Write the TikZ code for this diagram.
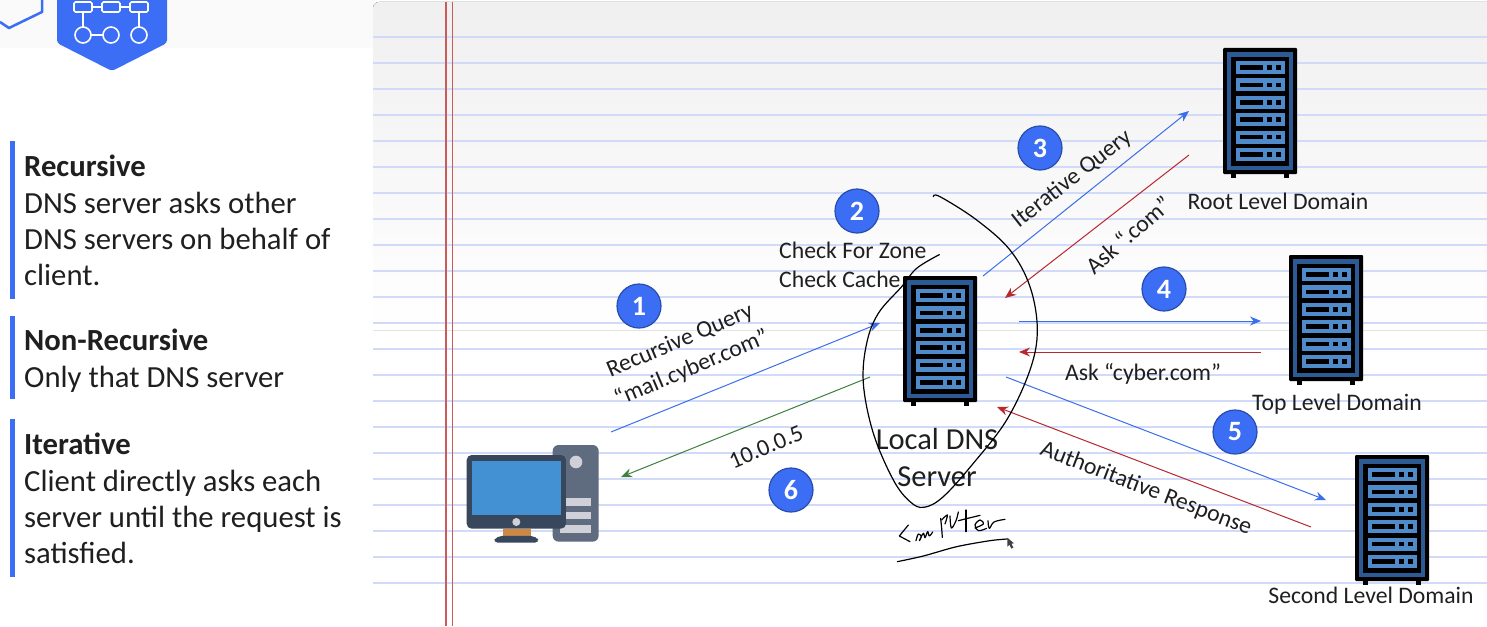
\documentclass[tikz,border=0pt]{standalone}
\usepackage{fontspec}
\setmainfont{Carlito}
\usetikzlibrary{arrows.meta}
\definecolor{bluea}{HTML}{3B6EF5}
\definecolor{arrblue}{HTML}{3B6FE8}
\definecolor{arrred}{HTML}{B8282E}
\definecolor{arrgreen}{HTML}{3F7F3F}
\definecolor{noterule}{HTML}{D2DAFA}
\definecolor{marginred}{HTML}{CC5A5A}
\definecolor{rack}{HTML}{2C5A94}
\definecolor{blade}{HTML}{4F8BCB}
\definecolor{ink}{HTML}{1F1F1F}
\definecolor{tower}{HTML}{5F6B7E}
\definecolor{monitor}{HTML}{38475C}
\definecolor{screen}{HTML}{4391D3}
\definecolor{pale}{HTML}{D0D0D8}
\definecolor{stand}{HTML}{CC8844}
\tikzset{
  conn/.style={line width=1pt,-{Stealth[length=11pt,width=9pt]}},
  badge/.style={circle,fill=bluea,draw=bluea!70!black,line width=1.2pt,minimum size=44pt,inner sep=0pt,text=white,font=\fontsize{28}{28}\selectfont\bfseries},
  sidetext/.style={anchor=north west,align=left,inner sep=0pt,text=ink,font=\fontsize{30.7}{36.3}\selectfont},
  lab/.style={text=ink,font=\fontsize{23.7}{30}\selectfont,inner sep=0pt,align=center},
  ink stroke/.style={line width=1.2pt,black,line cap=round,line join=round},
  server/.pic={
    \fill[black,rounded corners=1pt] (0,0) rectangle (74,126);
    \fill[black] (8,124) rectangle (13,130);
    \fill[black] (61,124) rectangle (66,130);
    \fill[rack] (4,4) rectangle (70,122);
    \fill[black] (8,9) rectangle (66,118);
    \foreach \k in {0,...,5}{
      \begin{scope}[shift={(13,13+17.4*\k)}]
        \fill[blade] (0,0) rectangle (49,13);
        \fill[black] (4,4.2) rectangle (27,8.8);
        \fill[black] (31,4.2) rectangle (36,8.8);
        \fill[black] (40,4.2) rectangle (45,8.8);
      \end{scope}
    }
  }
}
\begin{document}
\begin{tikzpicture}[x=1pt,y=-1pt]
\useasboundingbox (0,0) rectangle (1487,626);
\fill[white] (0,0) rectangle (1487,626);
\fill[black!2] (0,0) rectangle (373,48);
% paper
\fill[top color=black!6,bottom color=white] (373,330) [rounded corners=6pt] -- (373,2) -- (1500,2) [sharp corners] -- (1500,330) -- cycle;
\foreach \k in {0,...,21}{ \draw[noterule,line width=1.1pt] (373,37+26*\k) -- (1487,37+26*\k); }
\draw[marginred,line width=1.4pt] (446,2) -- (446,626);
\draw[marginred,line width=1pt] (452,2) -- (452,626);
% header icons
\draw[bluea,line width=2.5pt,line join=round] (0,22) -- (9,28) -- (42,12) -- (42,0);
\fill[bluea,rounded corners=3pt] (57,-5) -- (57,43) -- (112,71) -- (167,43) -- (167,-5) -- cycle;
\begin{scope}[white,line width=1.6pt]
  \draw[rounded corners=1.5pt] (74,2) rectangle (92,12);
  \draw[rounded corners=1.5pt] (102,2) rectangle (120,12);
  \draw[rounded corners=1.5pt] (130,2) rectangle (148,12);
  \draw (92,7) -- (102,7) (120,7) -- (130,7);
  \draw (83,12) -- (83,27) (139,12) -- (139,27);
  \draw (83,35) circle (8);
  \draw (111,35) circle (8);
  \draw (139,35) circle (8);
  \draw (91,35) -- (103,35);
\end{scope}
% side panel
\fill[bluea] (10,141) rectangle (15,299);
\fill[bluea] (10,316) rectangle (15,399);
\fill[bluea] (10,419) rectangle (15,577);
\node[sidetext] (recursive) at (24,155) {\textbf{Recursive}\\DNS server asks other\\DNS servers on behalf of\\client.};
\node[sidetext] (nonrecursive) at (24,329) {\textbf{Non-Recursive}\\Only that DNS server};
\node[sidetext] (iterative) at (24,433) {\textbf{Iterative}\\Client directly asks each\\server until the request is\\satisfied.};
% computer
\begin{scope}[shift={(450,430)},x=0.3333pt,y=-0.3333pt]
  \fill[tower,rounded corners=6pt] (308,45) rectangle (446,335);
  \fill[pale] (378,96) circle (19);
  \fill[pale] (330,205) rectangle (424,227);
  \fill[pale] (330,246) rectangle (424,268);
  \fill[pale] (330,286) rectangle (424,308);
  \fill[stand] (158,296) rectangle (242,320);
  \fill[monitor,rounded corners=5pt] (128,338) -- (140,318) -- (258,318) -- (270,338) -- cycle;
  \fill[monitor,rounded corners=5pt] (50,75) rectangle (348,296);
  \fill[screen] (66,92) rectangle (333,256);
  \fill[pale] (199,276) circle (12);
\end{scope}
% servers
\pic at (1223,48) {server};
\pic at (1289,255) {server};
\pic at (1355,455) {server};
\pic at (903,276) {server};
% connector ends
\coordinate (c1s) at (611,432); \coordinate (c1e) at (880,323);
\coordinate (c2s) at (870,377); \coordinate (c2e) at (621,477);
\coordinate (c3s) at (983,276); \coordinate (c3e) at (1189,111);
\coordinate (c4s) at (1189,155); \coordinate (c4e) at (1005,298);
\coordinate (c5s) at (1019,321); \coordinate (c5e) at (1261,321);
\coordinate (c6s) at (1261,352); \coordinate (c6e) at (1019,352);
\coordinate (c7s) at (1006,377); \coordinate (c7e) at (1326,500);
\coordinate (c8s) at (1311,527); \coordinate (c8e) at (997,407);
\draw[conn,arrblue] (c1s) -- (c1e);
\draw[conn,arrgreen] (c2s) -- (c2e);
\draw[conn,arrblue] (c3s) -- (c3e);
\draw[conn,arrred] (c4s) -- (c4e);
\draw[conn,arrblue] (c5s) -- (c5e);
\draw[conn,arrred] (c6s) -- (c6e);
\draw[conn,arrblue] (c7s) -- (c7e);
\draw[conn,arrred] (c8s) -- (c8e);
% badges
\node[badge] (b1) at (639,306) {1};
\node[badge] (b2) at (857,211) {2};
\node[badge] (b3) at (1040,148) {3};
\node[badge] (b4) at (1164,289) {4};
\node[badge] (b5) at (1235,432) {5};
\node[badge] (b6) at (791,490) {6};
% labels
\node[lab,rotate=23] (l1) at (686,355) {Recursive Query\\“mail.cyber.com”};
\node[lab,rotate=23] (l6) at (766,447) {10.0.0.5};
\node[lab,rotate=38] (l3) at (1072,179) {Iterative Query};
\node[lab,rotate=41] (l4) at (1128,235) {Ask “.com”};
\node[lab] (l5) at (1143,374) {Ask “cyber.com”};
\node[lab,rotate=-21] (l7) at (1146,489) {Authoritative Response};
\node[lab,align=left,anchor=west,font=\fontsize{23.7}{29}\selectfont] (l2) at (779,265) {Check For Zone\\Check Cache};
\node[lab] (n1) at (1278,201) {Root Level Domain};
\node[lab] (n2) at (1337,404) {Top Level Domain};
\node[lab] (n3) at (1371,595) {Second Level Domain};
\node[lab,font=\fontsize{30.5}{37}\selectfont] (n4) at (937,458) {Local DNS\\Server};
% handwriting
\begin{scope}[shift={(850,180)},x=0.3333pt,y=-0.3333pt]
  \draw[ink stroke] plot[smooth,tension=0.6] coordinates {(268,224) (200,265) (155,320) (85,400) (50,490) (40,610) (70,760) (130,900) (180,965) (222,982) (280,950) (370,850) (470,720) (540,570) (562,450) (540,320) (480,210) (380,120) (270,50) (250,50)};
\end{scope}
\begin{scope}[shift={(890,500)},x=0.3333pt,y=-0.3333pt]
  \draw[ink stroke] plot[smooth,tension=0.5] coordinates {(22,185) (100,168) (200,140) (300,122) (352,117)};
  \draw[ink stroke] (55,75) -- (28,108) -- (60,125);
  \draw[ink stroke] plot[smooth,tension=0.6] coordinates {(78,122) (85,102) (94,110) (88,122) (100,100) (105,113) (113,95) (118,108) (128,96)};
  \draw[ink stroke] plot[smooth,tension=0.4] coordinates {(152,55) (155,85) (157,112)};
  \draw[ink stroke] plot[smooth,tension=0.6] coordinates {(155,60) (172,45) (165,72)};
  \draw[ink stroke] plot[smooth,tension=0.6] coordinates {(180,48) (184,84) (198,62) (205,36)};
  \draw[ink stroke] (228,30) -- (228,95);
  \draw[ink stroke] (205,62) -- (270,46);
  \draw[ink stroke] plot[smooth,tension=0.6] coordinates {(255,84) (280,72) (270,60) (255,75) (265,92) (290,85)};
  \draw[ink stroke] plot[smooth,tension=0.6] coordinates {(294,62) (298,85) (312,66) (345,58)};
  \fill[black!75] (352,113) -- (352,140) -- (358,134) -- (364,146) -- (370,143) -- (364,131) -- (372,130) -- cycle;
\end{scope}
\end{tikzpicture}
\end{document}
